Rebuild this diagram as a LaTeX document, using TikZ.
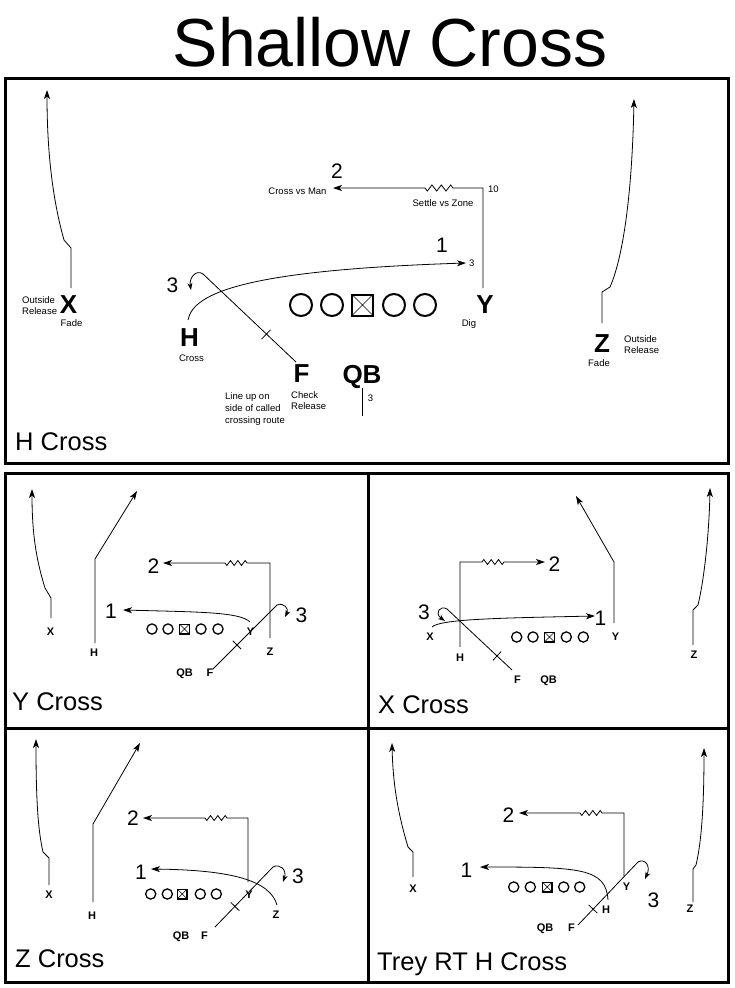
\documentclass[tikz,border=0pt]{standalone}
\usepackage{fontspec}
\setmainfont{Liberation Sans}
\usetikzlibrary{arrows.meta}
\begin{document}
\begin{tikzpicture}[x=1pt,y=-1pt,
  rt/.style={line width=0.8pt},
  ar/.style={rt,-{Stealth[length=9pt,width=6pt,inset=2.5pt]}},
  har/.style={rt,-{Stealth[length=7pt,width=5pt,inset=2pt]}},
  frm/.style={line width=3pt},
  num/.style={inner sep=0pt,text height=15pt,text depth=0pt,font=\fontsize{21}{21}\selectfont},
  bigl/.style={inner sep=0pt,text height=18.5pt,text depth=0pt,font=\fontsize{26}{26}\selectfont\bfseries},
  sml/.style={inner sep=0pt,text height=8pt,text depth=0pt,font=\fontsize{11}{11}\selectfont\bfseries},
  note/.style={inner sep=0pt,text height=6.8pt,text depth=0pt,font=\fontsize{9.5}{11.5}\selectfont},
  capt/.style={inner sep=0pt,anchor=west,text height=18.3pt,text depth=0pt,font=\fontsize{25.5}{25.5}\selectfont},
  olb/.style={draw,circle,line width=2pt,minimum size=22pt,inner sep=0pt},
  cbb/.style={draw,rectangle,line width=2pt,minimum size=21pt,inner sep=0pt,outer sep=0pt},
  ols/.style={draw,circle,line width=1.3pt,minimum size=10.2pt,inner sep=0pt},
  cbs/.style={draw,rectangle,line width=1.3pt,minimum size=9.7pt,inner sep=0pt,outer sep=0pt},
  zzl/.style={insert path={-- ++(-2.33,-3) -- ++(-4.67,6) -- ++(-4.67,-6) -- ++(-4.67,6) -- ++(-4.67,-6) -- ++(-4.67,6) -- ++(-2.33,-3)}},
  zzs/.style={insert path={-- ++(-1.83,-2.5) -- ++(-3.67,5) -- ++(-3.67,-5) -- ++(-3.67,5) -- ++(-3.67,-5) -- ++(-3.67,5) -- ++(-1.83,-2.5)}},
  zzr/.style={insert path={-- ++(1.83,-2.5) -- ++(3.67,5) -- ++(3.67,-5) -- ++(3.67,5) -- ++(3.67,-5) -- ++(3.67,5) -- ++(1.83,-2.5)}}
]
\useasboundingbox (0,0) rectangle (735,988);
\fill[white] (0,0) rectangle (735,988);

% ---------- title ----------
\node[inner sep=0pt,text height=49pt,text depth=0pt,font=\fontsize{68}{68}\selectfont] (title) at (390,42) {Shallow Cross};

% ---------- frames ----------
\draw[frm] (5,78) rectangle (728,463);
\draw[frm] (5,473) rectangle (728,982);
\draw[frm] (368,473) -- (368,982);
\draw[frm] (5,728) -- (728,728);

% ================= H Cross (top) =================
\foreach \x [count=\i] in {301,332,394,425} \node[olb] (L0\i) at (\x,305) {};
\node[cbb] (C0) at (362.5,305) {};
\draw[line width=0.6pt] (C0.north west) -- (C0.south east) (C0.north east) -- (C0.south west);

\node[bigl] (X0) at (68.5,304) {X};
\node[note,anchor=west] (X0a) at (22,300) {Outside};
\node[note,anchor=west] (X0b) at (22,311) {Release};
\node[note] (X0c) at (71.5,323) {Fade};
\coordinate (X0s) at (71,288);
\draw[ar] (X0s) -- (71,248) -- (64,240) .. controls (57,215) and (47,170) .. (47,90);

\node[bigl] (Z0) at (602,343) {Z};
\node[note,anchor=west] (Z0a) at (624,339) {Outside};
\node[note,anchor=west] (Z0b) at (624,350) {Release};
\node[note] (Z0c) at (599,363) {Fade};
\coordinate (Z0s) at (602,323);
\draw[ar] (Z0s) -- (602,292) -- (610,287) .. controls (622,260) and (632,200) .. (634,99);

\node[bigl] (Y0) at (485,304) {Y};
\node[note] (Y0d) at (469,323) {Dig};
\coordinate (Y0s) at (483,288);
\coordinate (Y0t) at (333,188);
\draw[ar] (Y0s) -- (483,188) -- (453,188) [zzl] -- (Y0t);
\node[note,anchor=west] (ten) at (488,189) {10};
\node[note] (svz) at (443,203) {Settle vs Zone};
\node[note] (cvm) at (297.5,191) {Cross vs Man};
\node[num] (n2t) at (337,171) {2};

\node[bigl] (H0) at (189.5,337.5) {H};
\node[note] (H0c) at (191.5,358) {Cross};
\coordinate (H0s) at (188,320);
\coordinate (H0t) at (466,263);
\draw[ar] (H0s) .. controls (193,292) and (250,270) .. (H0t);
\node[num] (n1t) at (442,245) {1};
\node[note,anchor=west] (d3t) at (469,263) {3};

\node[bigl] (F0) at (301.5,373) {F};
\coordinate (F0s) at (296,362);
\coordinate (F0t) at (203,274);
\draw[rt] (F0s) -- (F0t);
\draw[rt] (261.5,339.2) -- (270.5,329.8);
\draw[har] (F0t) .. controls (196,269) and (189,278) .. (191,290);
\node[num] (n3t) at (172.5,284.5) {3};
\node[note,anchor=west] (lu1) at (225,396) {Line up on};
\node[note,anchor=west] (lu2) at (225,408) {side of called};
\node[note,anchor=west] (lu3) at (225,420) {crossing route};
\node[note,anchor=west] (cr1) at (291,395) {Check};
\node[note,anchor=west] (cr2) at (291,406) {Release};

\node[bigl] (QB0) at (362,374) {QB};
\draw[rt] (362,388) -- (362,416);
\node[note] (q3) at (370.5,398.5) {3};

\node[capt] (cap0) at (15,441.5) {H Cross};

% ================= Y Cross =================
\foreach \x [count=\i] in {152,168,201,218} \node[ols] (L1\i) at (\x,629) {};
\node[cbs] (C1) at (184.5,629) {};
\draw[line width=0.5pt] (C1.north west) -- (C1.south east) (C1.north east) -- (C1.south west);
\node[sml] (X1) at (50.5,631) {X};
\draw[ar] (51,618) -- (51,598) -- (45,588) .. controls (38,565) and (32,540) .. (32,489);
\node[sml] (H1) at (94,652) {H};
\draw[ar] (95,643) -- (95,559) -- (137,491);
\node[sml] (Z1) at (270,651) {Z};
\draw[ar] (270,638) -- (270,563) -- (247,563) [zzs] -- (163,563);
\node[num] (n21) at (153.5,566) {2};
\node[sml] (Y1) at (250.5,631) {Y};
\draw[ar] (250,622) .. controls (240,612) and (200,612) .. (123,610);
\node[num] (n11) at (111,611) {1};
\node[sml] (F1) at (210,672) {F};
\node[sml] (QB1) at (184.5,672) {QB};
\draw[rt] (213,669) -- (277,605);
\draw[rt] (232.8,640.8) -- (241.2,649.2);
\draw[har] (277,605) .. controls (284,602) and (289,609) .. (285,617);
\node[num] (n31) at (301.5,615) {3};
\node[capt] (cap1) at (12,701.5) {Y Cross};

% ================= X Cross =================
\foreach \x [count=\i] in {516.7,533,566.3,583.3} \node[ols] (L2\i) at (\x,637) {};
\node[cbs] (C2) at (549.5,637) {};
\draw[line width=0.5pt] (C2.north west) -- (C2.south east) (C2.north east) -- (C2.south west);
\node[sml] (Y2) at (615.5,636) {Y};
\draw[ar] (614,623) -- (614,562) -- (576,496);
\node[sml] (Z2) at (694,654) {Z};
\draw[ar] (693,645) -- (693,610) -- (698,605) .. controls (703,585) and (709,540) .. (710,488);
\node[sml] (H2) at (460,657) {H};
\draw[ar] (460,647) -- (460,562) -- (482,562) [zzr] -- (545,562);
\node[num] (n22) at (554.5,564) {2};
\node[sml] (X2) at (430,636) {X};
\draw[ar] (432,627) .. controls (440,619) and (500,618) .. (595,616);
\node[num] (n12) at (600.5,617.5) {1};
\node[sml] (F2) at (517.5,679) {F};
\node[sml] (QB2) at (548.5,679) {QB};
\draw[rt] (512,670) -- (447,609);
\draw[rt] (501.1,651.6) -- (492.9,660.4);
\draw[har] (447,609) .. controls (440,605) and (434,613) .. (445,621);
\node[num] (n32) at (424,611.5) {3};
\node[capt] (cap2) at (378,704) {X Cross};

% ================= Z Cross =================
\foreach \x [count=\i] in {150.7,167.3,200.3,216.3} \node[ols] (L3\i) at (\x,894) {};
\node[cbs] (C3) at (182.2,894) {};
\draw[line width=0.5pt] (C3.north west) -- (C3.south east) (C3.north east) -- (C3.south west);
\node[sml] (X3) at (49,894) {X};
\draw[ar] (49,885) -- (49,858) -- (43,852) .. controls (38,830) and (36,800) .. (36,739);
\node[sml] (H3) at (92,915.5) {H};
\draw[ar] (93,902) -- (93,824) -- (140,743);
\node[sml] (Y3) at (249,894) {Y};
\draw[ar] (248,882) -- (248,818) -- (227,818) [zzs] -- (143,818);
\node[num] (n23) at (133,818) {2};
\node[sml] (Z3) at (276,914) {Z};
\draw[ar] (277,905) .. controls (270,880) and (230,870) .. (151,869);
\node[num] (n13) at (141,872) {1};
\node[sml] (F3) at (204.5,935.5) {F};
\node[sml] (QB3) at (181,935.5) {QB};
\draw[rt] (215,927) -- (273,867);
\draw[rt] (230.7,902.3) -- (239.3,910.7);
\draw[har] (273,867) .. controls (280,863) and (287,870) .. (283,882);
\node[num] (n33) at (298,876) {3};
\node[capt] (cap3) at (15,958) {Z Cross};

% ================= Trey RT H Cross =================
\foreach \x [count=\i] in {513.7,530.3,563.7,579.7} \node[ols] (L4\i) at (\x,887) {};
\node[cbs] (C4) at (547.2,887) {};
\draw[line width=0.5pt] (C4.north west) -- (C4.south east) (C4.north east) -- (C4.south west);
\node[sml] (X4) at (413,888) {X};
\draw[ar] (413,877) -- (413,852) -- (408,847) .. controls (400,820) and (393,790) .. (392,743);
\node[sml] (Z4) at (690,908.5) {Z};
\draw[ar] (693,902) -- (693,869) -- (696,865) .. controls (702,840) and (704,800) .. (704,748);
\node[sml] (Y4) at (626.5,886.5) {Y};
\draw[ar] (624,876) -- (624,813) -- (602,813) [zzs] -- (519,813);
\node[num] (n24) at (508.5,814.5) {2};
\node[sml] (H4) at (606,909) {H};
\draw[ar] (608,900) .. controls (606,868) and (580,867) .. (480,867);
\node[num] (n14) at (466.5,870) {1};
\node[sml] (F4) at (571.5,927.5) {F};
\node[sml] (QB4) at (545,927.5) {QB};
\draw[rt] (578,925) -- (638,862);
\draw[rt] (588.7,904.9) -- (597.3,913.1);
\draw[har] (638,862) .. controls (645,858) and (651,866) .. (645,879);
\node[num] (n34) at (653.5,899.5) {3};
\node[capt] (cap4) at (377,961) {Trey RT H Cross};
\end{tikzpicture}
\end{document}
